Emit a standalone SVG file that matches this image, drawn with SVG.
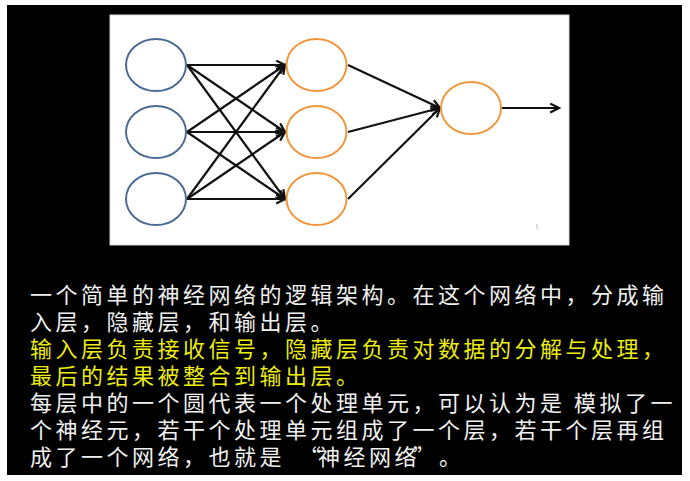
<svg xmlns="http://www.w3.org/2000/svg" width="690" height="481" viewBox="0 0 690 481">
<style>
.in{fill:#fff;stroke:#4a6a94;stroke-width:2}
.hid{fill:#fff;stroke:#f0963c;stroke-width:2}
.cn line{stroke:#111;stroke-width:2.2;marker-end:url(#ah)}
.t{font-family:"Noto Sans CJK SC","Noto Sans CJK JP",sans-serif;font-size:22px;letter-spacing:3.5px}
.w{fill:#f0f0f0}
.y{fill:#ecec10}
</style>
<defs>
<marker id="ah" viewBox="0 0 10 10" markerUnits="userSpaceOnUse" markerWidth="12" markerHeight="11" refX="9" refY="5" orient="auto">
<path d="M1,1 L9,5 L1,9" fill="none" stroke="#111" stroke-width="2"/>
</marker>
</defs>
<rect x="0" y="0" width="690" height="481" fill="#fff"/>
<rect x="7" y="5" width="675" height="470" fill="#000"/>
<rect x="110" y="15" width="459" height="230" fill="#fff" stroke="#d8d8d8" stroke-width="1"/>
<g class="cn" id="connectors">
<line x1="187" y1="65" x2="285" y2="65"/>
<line x1="187" y1="65" x2="285" y2="132"/>
<line x1="187" y1="65" x2="285" y2="199"/>
<line x1="187" y1="132" x2="285" y2="65"/>
<line x1="187" y1="132" x2="285" y2="132"/>
<line x1="187" y1="132" x2="285" y2="199"/>
<line x1="187" y1="199" x2="285" y2="65"/>
<line x1="187" y1="199" x2="285" y2="132"/>
<line x1="187" y1="199" x2="285" y2="199"/>
<line x1="348" y1="65" x2="440" y2="108"/>
<line x1="348" y1="132" x2="440" y2="108"/>
<line x1="348" y1="199" x2="440" y2="108"/>
<line x1="502" y1="108" x2="559" y2="108"/>
</g>
<g id="in1"><ellipse class="in" cx="156" cy="65" rx="30" ry="26"/></g>
<g id="in2"><ellipse class="in" cx="156" cy="132" rx="30" ry="26"/></g>
<g id="in3"><ellipse class="in" cx="156" cy="199" rx="30" ry="26"/></g>
<g id="h1"><ellipse class="hid" cx="316.5" cy="65" rx="30" ry="26"/></g>
<g id="h2"><ellipse class="hid" cx="316.5" cy="132" rx="30" ry="26"/></g>
<g id="h3"><ellipse class="hid" cx="316.5" cy="199" rx="30" ry="26"/></g>
<g id="out"><ellipse class="hid" cx="471" cy="108" rx="30" ry="26"/></g>
<line x1="537" y1="224" x2="537" y2="229" stroke="#bbb" stroke-width="1"/>
<g id="caption">
<text class="t w" x="30" y="303">一个简单的神经网络的逻辑架构。在这个网络中，分成输</text>
<text class="t w" x="30" y="330">入层，隐藏层，和输出层。</text>
<text class="t y" x="30" y="357">输入层负责接收信号，隐藏层负责对数据的分解与处理，</text>
<text class="t y" x="30" y="384">最后的结果被整合到输出层。</text>
<text class="t w" x="30" y="411" xml:space="preserve">每层中的一个圆代表一个处理单元，可以认为是 模拟了一</text>
<text class="t w" x="30" y="438">个神经元，若干个处理单元组成了一个层，若干个层再组</text>
<text class="t w" x="30" y="465">成了一个网络，也就是<tspan x="299">“</tspan><tspan x="318">神经网络</tspan><tspan x="413">”</tspan><tspan x="439">。</tspan></text>
</g>
</svg>
